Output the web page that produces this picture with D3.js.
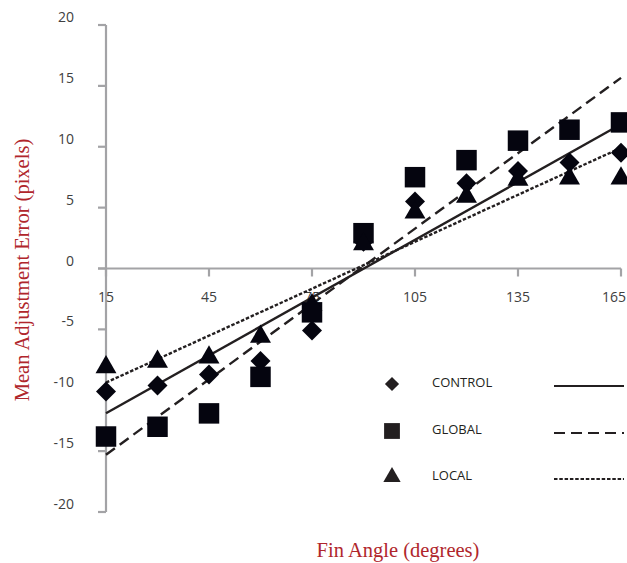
<!DOCTYPE html>
<html lang="en">
<head>
  <meta charset="UTF-8">
  <title>Fin Angle</title>
  <style>
    body { margin: 0; background: #ffffff; }
    svg { display: block; }
    .tick-label { font-family: "Open Sans", sans-serif; font-size: 14px; fill: #404040; }
    .axis-title { font-family: "Liberation Serif", serif; font-size: 20.5px; fill: #b0262c; }
    .legend-label { font-family: "Open Sans", sans-serif; font-size: 13px; fill: #231f20; }
  </style>
  <script type="text/javascript" src="https://d3js.org/d3.v7.min.js"></script>
</head>
<body>
<script type="text/javascript">

  // data
  var angles = [15, 30, 45, 60, 75, 90, 105, 120, 135, 150, 165];
  var controlValues = [-10.1, -9.6, -8.7, -7.6, -5.1, 2.2, 5.5, 7.0, 8.0, 8.7, 9.5];
  var globalValues = [-13.8, -13.0, -11.9, -8.9, -3.6, 2.9, 7.5, 8.9, 10.5, 11.4, 12.0];
  var localValues = [-8.1, -7.65, -7.3, -5.6, -3.0, 2.0, 4.6, 5.9, 7.3, 7.4, 7.4];
  var xTicks = [15, 45, 75, 105, 135, 165];
  var yTicks = [-20, -15, -10, -5, 0, 5, 10, 15, 20];
  var seriesNames = ["CONTROL", "GLOBAL", "LOCAL"];

  // diamond = square turned 45 degrees
  var series = [
    {name: seriesNames[0], values: controlValues, symbol: d3.symbolSquare, rot: 45, size: 200, legendSize: 100, dash: null},
    {name: seriesNames[1], values: globalValues, symbol: d3.symbolSquare, rot: 0, size: 420, legendSize: 250, dash: "11,6"},
    {name: seriesNames[2], values: localValues, symbol: d3.symbolTriangle, rot: 0, size: 190, legendSize: 130, dash: "3.5,1.8"}
  ];

  var width = 627, height = 563;

  var svg = d3.select("body")
    .append("svg")
    .attr("width", width)
    .attr("height", height);

  var x = d3.scaleLinear().domain([15, 165]).range([106, 621]);
  var y = d3.scaleLinear().domain([-20, 20]).range([512, 25]);

  var axisColor = "#a3a3a6";

  // y axis
  var yAxis = svg.append("g").attr("id", "y-axis");
  yAxis.append("line")
    .attr("x1", x(15)).attr("x2", x(15))
    .attr("y1", y(20)).attr("y2", y(-20))
    .attr("stroke", axisColor).attr("stroke-width", 2.2);
  yAxis.selectAll("line.tick").data(yTicks).enter()
    .append("line")
    .attr("class", "tick")
    .attr("x1", x(15) - 8).attr("x2", x(15))
    .attr("y1", function(d) { return y(d); })
    .attr("y2", function(d) { return y(d); })
    .attr("stroke", axisColor).attr("stroke-width", 2.2);
  yAxis.selectAll("text").data(yTicks).enter()
    .append("text")
    .attr("class", "tick-label")
    .attr("x", 74)
    .attr("y", function(d) { return y(d) - 3; })
    .attr("text-anchor", "end")
    .text(function(d) { return d; });

  // x axis at zero
  var xAxis = svg.append("g").attr("id", "x-axis");
  xAxis.append("line")
    .attr("x1", x(15) - 8).attr("x2", x(165))
    .attr("y1", y(0)).attr("y2", y(0))
    .attr("stroke", axisColor).attr("stroke-width", 2.2);
  xAxis.selectAll("line.tick").data(xTicks).enter()
    .append("line")
    .attr("class", "tick")
    .attr("x1", function(d) { return x(d); })
    .attr("x2", function(d) { return x(d); })
    .attr("y1", y(0)).attr("y2", y(0) + 8)
    .attr("stroke", axisColor).attr("stroke-width", 2.2);
  xAxis.selectAll("text").data(xTicks).enter()
    .append("text")
    .attr("class", "tick-label")
    .attr("x", function(d) { return d === 165 ? width - 1 : x(d); })
    .attr("y", y(0) + 33)
    .attr("text-anchor", function(d) { return d === 165 ? "end" : "middle"; })
    .text(function(d) { return d; });

  // least squares trend lines
  function fit(values) {
    var mx = d3.mean(angles), my = d3.mean(values);
    var num = d3.sum(angles, function(a, i) { return (a - mx) * (values[i] - my); });
    var den = d3.sum(angles, function(a) { return (a - mx) * (a - mx); });
    var slope = num / den;
    return function(a) { return my + slope * (a - mx); };
  }

  var plot = svg.append("g").attr("id", "plot-area");

  series.forEach(function(s) {
    var f = fit(s.values);
    plot.append("line")
      .attr("x1", x(15)).attr("y1", y(f(15)))
      .attr("x2", x(165)).attr("y2", y(f(165)))
      .attr("stroke", "#231f20")
      .attr("stroke-width", 2.4)
      .attr("stroke-dasharray", s.dash);
  });

  series.forEach(function(s) {
    plot.selectAll("path.m-" + s.name).data(s.values).enter()
      .append("path")
      .attr("class", "m-" + s.name)
      .attr("d", d3.symbol().type(s.symbol).size(s.size))
      .attr("transform", function(d, i) {
        return "translate(" + x(angles[i]) + "," + y(d) + ") rotate(" + s.rot + ")";
      })
      .attr("fill", "#05050f");
  });

  // legend
  var legend = svg.append("g").attr("id", "legend");
  var legendY = [384, 431, 477];
  series.forEach(function(s, i) {
    legend.append("path")
      .attr("d", d3.symbol().type(s.symbol).size(s.legendSize))
      .attr("transform", "translate(392," + legendY[i] + ") rotate(" + s.rot + ")")
      .attr("fill", "#231f20");
    legend.append("text")
      .attr("class", "legend-label")
      .attr("x", 432)
      .attr("y", legendY[i] + 3)
      .text(s.name);
    legend.append("line")
      .attr("x1", 554).attr("x2", 624)
      .attr("y1", legendY[i] + 2).attr("y2", legendY[i] + 2)
      .attr("stroke", "#231f20")
      .attr("stroke-width", 2)
      .attr("stroke-dasharray", s.dash);
  });

  // axis titles
  svg.append("text")
    .attr("class", "axis-title")
    .attr("x", 398)
    .attr("y", 557)
    .attr("text-anchor", "middle")
    .text("Fin Angle (degrees)");

  svg.append("text")
    .attr("class", "axis-title")
    .attr("transform", "translate(29,270) rotate(-90)")
    .attr("text-anchor", "middle")
    .text("Mean Adjustment Error (pixels)");

</script>
</body>
</html>
